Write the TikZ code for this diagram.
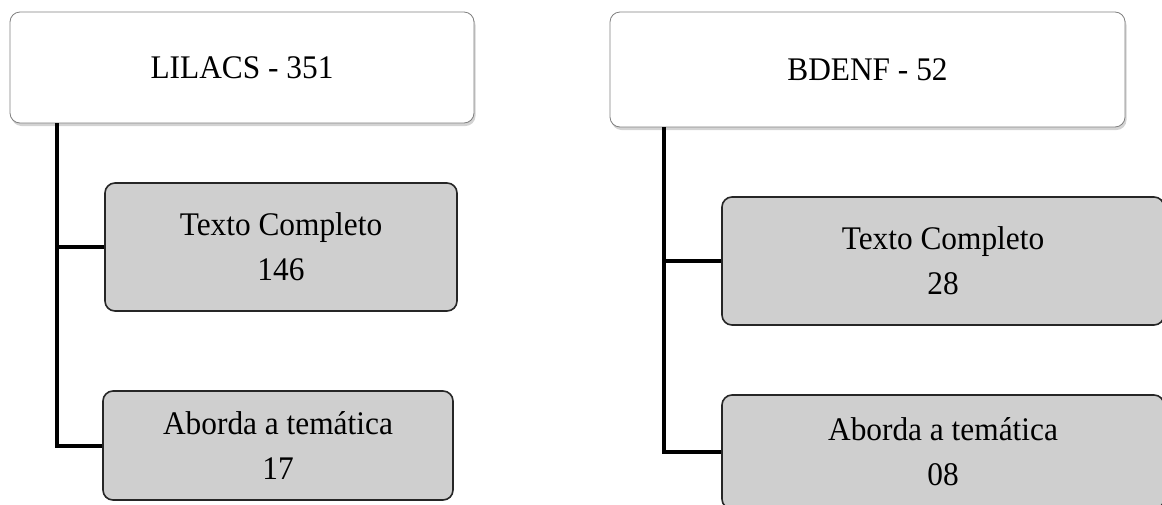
\documentclass[tikz,border=0pt]{standalone}
\usepackage{fontspec}
\setmainfont{Liberation Serif}
\newfontfamily\boxfont[FakeStretch=0.95]{Liberation Serif}
\usetikzlibrary{shadows}

\tikzset{
  basebox/.style={draw=black!50, fill=white, rounded corners=10pt, line width=0.8pt,
    font=\boxfont\fontsize{33}{45}\selectfont, align=center,
    drop shadow={opacity=0.35, shadow xshift=1.5pt, shadow yshift=-3pt}},
  itembox/.style={draw=black!85, fill=black!19, rounded corners=10pt, line width=1.6pt,
    font=\boxfont\fontsize{33}{45}\selectfont, align=center},
  conn/.style={line width=4pt}
}

\begin{document}
\begin{tikzpicture}[x=1pt, y=-1pt]
  \useasboundingbox (0,0) rectangle (1162,504);

  % bases
  \node[basebox, minimum width=464pt, minimum height=111pt] (lilacs) at (242,67.5) {LILACS - 351};
  \node[basebox, minimum width=515pt, minimum height=115pt] (bdenf) at (867.5,69.5) {BDENF - 52};

  % results
  \node[itembox, minimum width=352pt, minimum height=128pt] (lilacsTexto) at (281,247) {Texto Completo\\146};
  \node[itembox, minimum width=350pt, minimum height=109pt] (lilacsAborda) at (278,445.5) {Aborda a temática\\17};
  \node[itembox, minimum width=442pt, minimum height=128pt] (bdenfTexto) at (943,261) {Texto Completo\\28};
  \node[itembox, minimum width=442pt, minimum height=114pt] (bdenfAborda) at (943,452) {Aborda a temática\\08};

  % tree lines
  \coordinate (lilacsRoot) at ([xshift=47pt]lilacs.south west);
  \coordinate (bdenfRoot) at ([xshift=54pt]bdenf.south west);
  \foreach \src/\dst in {lilacsRoot/lilacsTexto, lilacsRoot/lilacsAborda,
                         bdenfRoot/bdenfTexto, bdenfRoot/bdenfAborda} {
      \draw[conn] (\src) |- (\dst.west);
  }
\end{tikzpicture}
\end{document}
